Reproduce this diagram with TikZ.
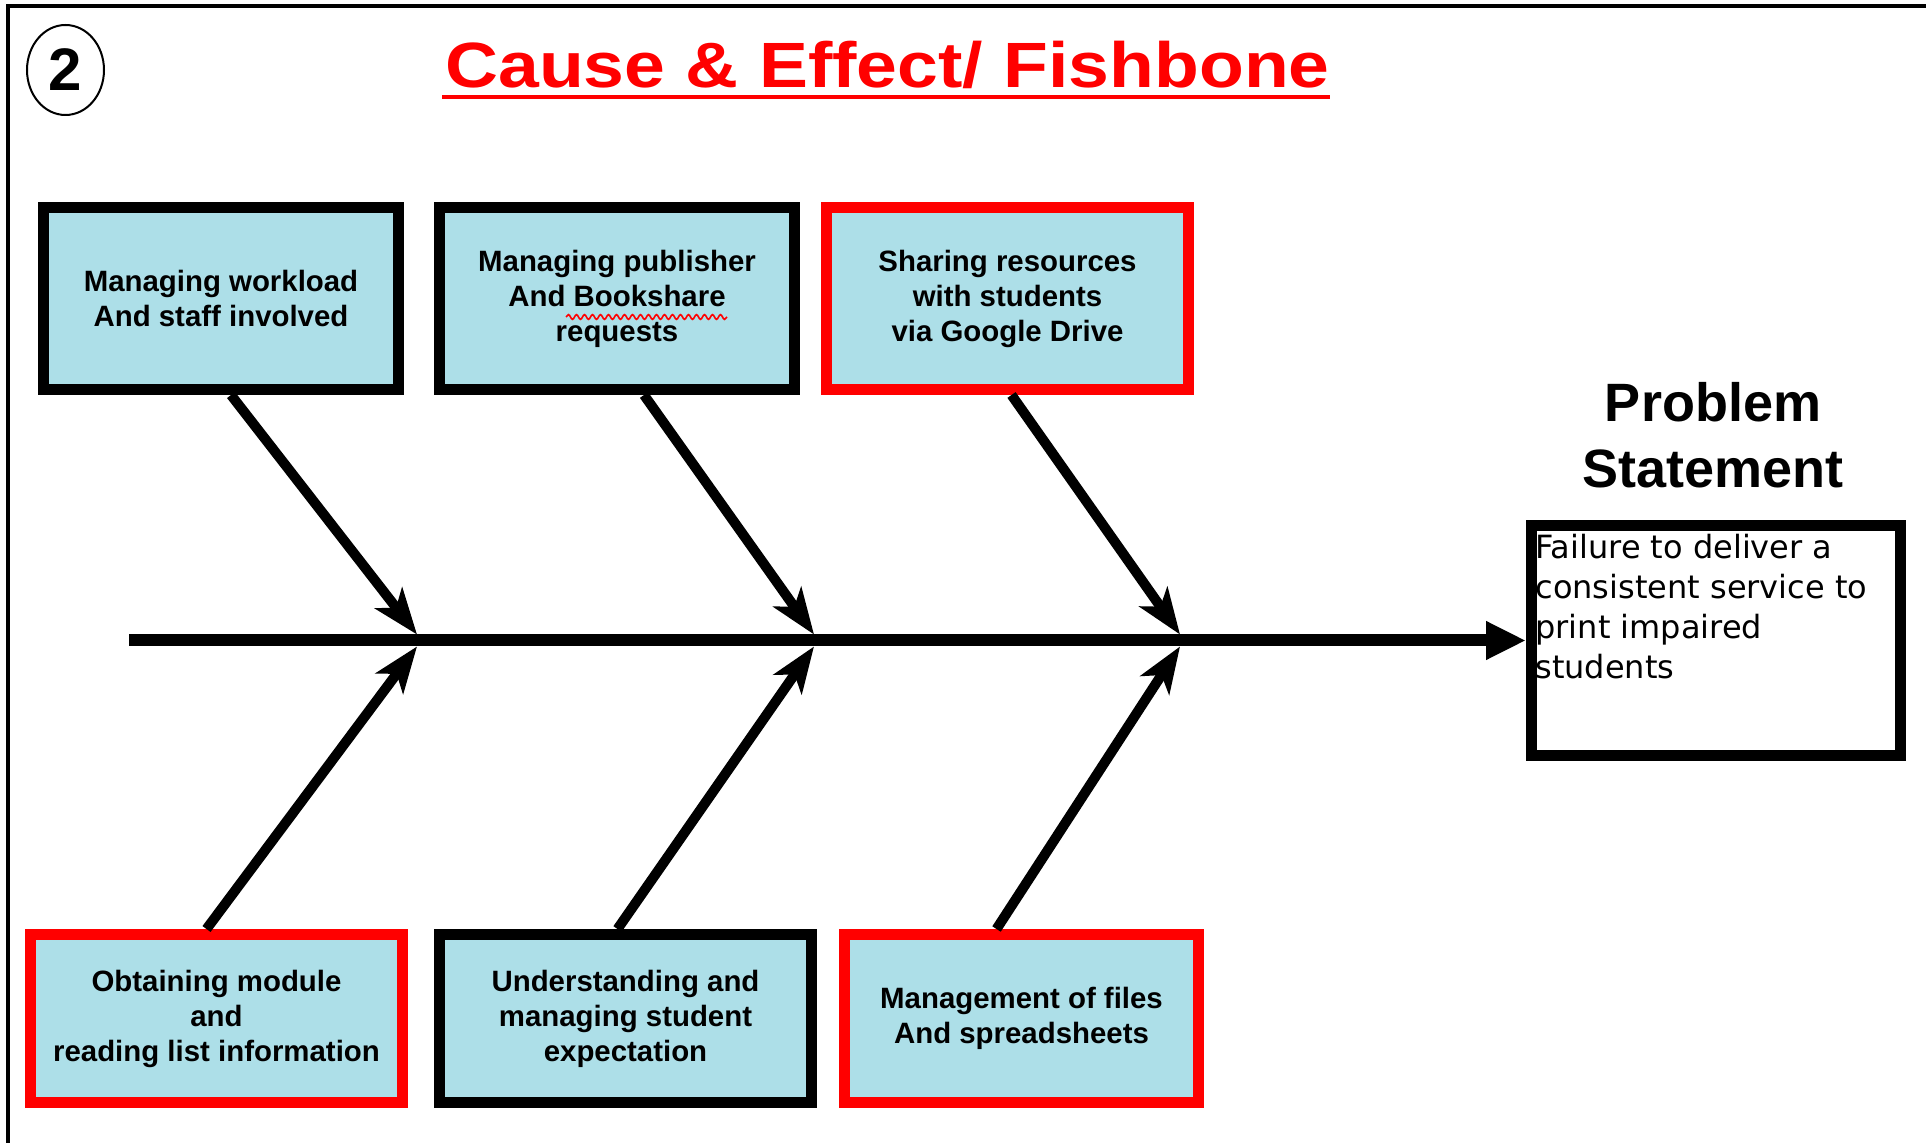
\documentclass[tikz,border=0pt]{standalone}
\usepackage{fontspec}
\setmainfont{Liberation Sans}
\newfontfamily\probfont{DejaVu Sans}
\usetikzlibrary{arrows.meta,shapes.geometric,decorations.pathmorphing}
\definecolor{boxblue}{RGB}{173,223,232}
\tikzset{
  >=Stealth,
}
\tikzstyle{cause}=[draw,fill=boxblue,line width=5.5pt,inner sep=0pt,align=center,font=\fontsize{14.7}{17.5}\selectfont\bfseries]
\tikzstyle{keycause}=[cause,draw=red]
\tikzstyle{bone}=[line width=5pt,-{Stealth[length=23pt,width=17pt,inset=6pt]}]
\tikzstyle{spine}=[line width=6pt,-{Triangle[length=20pt,width=18pt]}]

\begin{document}
\begin{tikzpicture}[x=0.5pt,y=-0.5pt]
  \useasboundingbox (0,0) rectangle (1926,1143);
  \draw[line width=2pt] (8,1143) -- (8,6) -- (1926,6);
  \node[draw,ellipse,line width=1pt,minimum width=38.5pt,minimum height=45pt,inner sep=0pt,font=\fontsize{30}{30}\selectfont\bfseries] (num) at (65.5,70) {2};
  \node[red,anchor=base west,inner sep=0pt,font=\fontsize{32}{32}\selectfont\bfseries] (title) at (445,88) {\scalebox{1.146}[1]{Cause \& Effect/ Fishbone}};
  \draw[red,line width=2pt] ([shift={(-1.5pt,-4.75pt)}]title.base west) -- ([yshift=-4.75pt]title.base east);

  \node[cause,minimum width=177.5pt,minimum height=91pt] (workload) at (221,298.5) {Managing workload\\And staff involved};
  \node[cause,minimum width=177.5pt,minimum height=91pt] (publisher) at (617,298.5) {Managing publisher\\And Bookshare\\requests};
  \node[keycause,minimum width=181pt,minimum height=91pt] (sharing) at (1007.5,298.5) {Sharing resources\\with students\\via Google Drive};
  \node[keycause,minimum width=186pt,minimum height=84pt] (module) at (216.5,1018.5) {Obtaining module\\and\\reading list information};
  \node[cause,minimum width=186pt,minimum height=84pt] (expect) at (625.5,1018.5) {Understanding and\\managing student\\expectation};
  \node[keycause,minimum width=177pt,minimum height=84pt] (files) at (1021.5,1018.5) {Management of files\\And spreadsheets};
  \draw[red,line width=0.8pt,decorate,decoration={snake,amplitude=1.2pt,segment length=4pt}] (566,317) -- (727,317);

  \node[anchor=north,inner sep=0pt,align=center,font=\fontsize{27}{33}\selectfont\bfseries] (heading) at (1713,382) {Problem\\Statement};
  \node[draw,line width=5.5pt,minimum width=184.5pt,minimum height=115pt,inner sep=0pt] (problem) at (1716,640.5) {};
  \node[anchor=north west,inner sep=0pt,align=left,font=\probfont\fontsize{16}{20}\selectfont] (failure) at (1535,534) {Failure to deliver a\\consistent service to\\print impaired\\students};

  \coordinate (tail) at (129,640.5);
  \coordinate (j1) at (417,640.5);
  \coordinate (j2) at (814,640.5);
  \coordinate (j3) at (1180,640.5);
  \draw[spine] (tail) -- (problem.west);
  \draw[bone] ([xshift=5pt]workload.south) -- ([yshift=3pt]j1);
  \draw[bone] ([xshift=13.5pt]publisher.south) -- ([yshift=3pt]j2);
  \draw[bone] ([xshift=2pt]sharing.south) -- ([yshift=3pt]j3);
  \draw[bone] ([xshift=-5pt]module.north) -- ([yshift=-3pt]j1);
  \draw[bone] ([xshift=-4pt]expect.north) -- ([yshift=-3pt]j2);
  \draw[bone] ([xshift=-12.5pt]files.north) -- ([yshift=-3pt]j3);
\end{tikzpicture}
\end{document}
